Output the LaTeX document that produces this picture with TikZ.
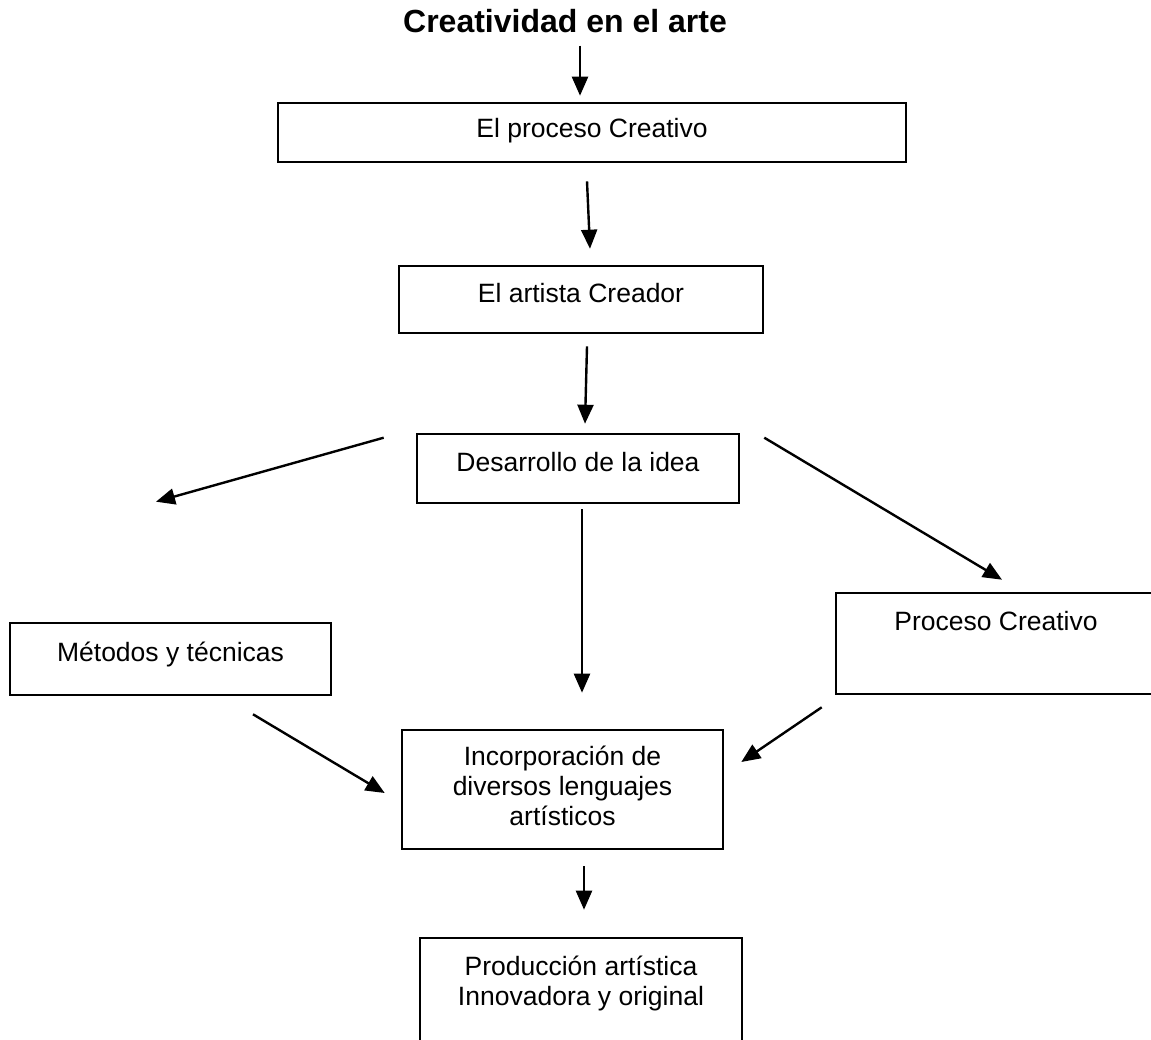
\documentclass[tikz,border=0pt]{standalone}
\usepackage{fontspec}
\setmainfont{Liberation Sans}
\usetikzlibrary{arrows.meta}
\newcommand\bodyf{\fontsize{26.5}{30}\selectfont}
\newcommand\titlef{\fontsize{32}{36}\selectfont\bfseries}
\newcommand\mylines[1]{\begin{tabular}[t]{@{}c@{}}#1\end{tabular}}
\begin{document}
\begin{tikzpicture}[x=1pt,y=-1pt,
  bx/.style={draw, line width=2.6pt, inner xsep=0pt, inner ysep=0pt, anchor=base, font=\bodyf},
  arr/.style={line width=2.4pt, -{Triangle[length=19pt,width=16pt]}}]
\useasboundingbox (0,0) rectangle (1151,1040);

\node[font=\titlef, inner sep=0pt, anchor=base] (title) at (565,33) {Creatividad en el arte};
\node[bx, minimum width=628pt, text height=35pt, text depth=24pt] (proc1) at (592,138) {El proceso Creativo};
\node[bx, minimum width=364pt, text height=37pt, text depth=30pt] (artista) at (581,303) {El artista Creador};
\node[bx, minimum width=322pt, text height=37pt, text depth=32pt] (desa) at (578,471) {Desarrollo de la idea};
\node[bx, minimum width=321pt, text height=38pt, text depth=34pt] (metodos) at (170.5,661) {Métodos y técnicas};
\node[bx, minimum width=320pt, text height=37pt, text depth=64pt] (proc2) at (996,630) {Proceso Creativo};
\node[bx, minimum width=321pt, text height=35pt, text depth=84pt] (incorp) at (562.5,765) {\mylines{Incorporación de\\diversos lenguajes\\artísticos}};
\node[bx, minimum width=322pt, text height=37pt, text depth=90pt] (prod) at (581,975) {\mylines{Producción artística\\Innovadora y original}};

\draw[arr] ([shift={(15,12)}]title.south) -- ([shift={(-12,-6)}]proc1.north);
\draw[arr] ([shift={(-5,18)}]proc1.south) -- ([shift={(9,-16)}]artista.north);
\draw[arr] ([shift={(6,12)}]artista.south) -- ([shift={(7,-9)}]desa.north);
\draw[arr] ([shift={(-32,5)}]desa.north west) -- ([shift={(-14.5,-120)}]metodos.north);
\draw[arr] ([shift={(24,5)}]desa.north east) -- ([shift={(6,-12)}]proc2.north);
\draw[arr] ([shift={(4,5)}]desa.south) -- ([shift={(19.5,-36)}]incorp.north);
\draw[arr] ([shift={(82.5,18)}]metodos.south) -- ([shift={(-16,3.5)}]incorp.west);
\draw[arr] ([shift={(-13,12)}]proc2.south west) -- ([shift={(17,-27.5)}]incorp.east);
\draw[arr] ([shift={(21.5,16)}]incorp.south) -- ([shift={(3,-27)}]prod.north);
\end{tikzpicture}
\end{document}
